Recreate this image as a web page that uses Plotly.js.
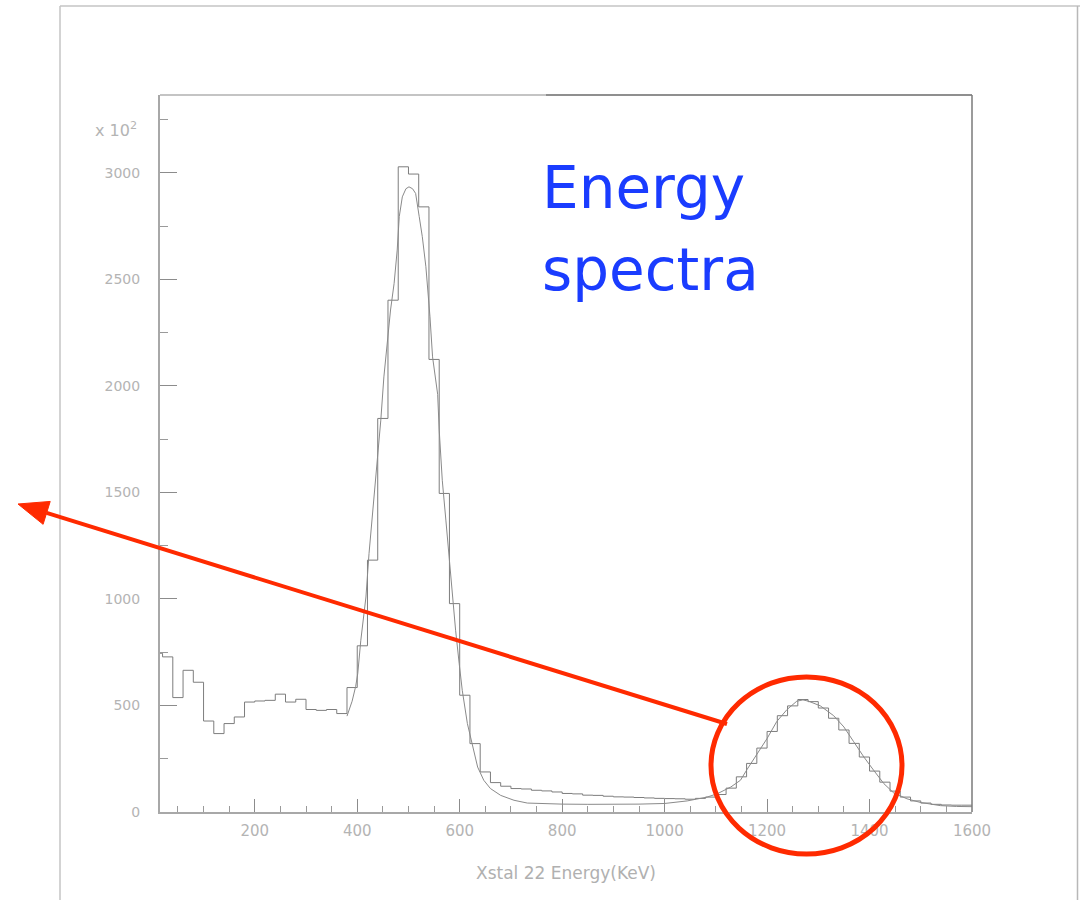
<!DOCTYPE html>
<html>
<head>
<meta charset="utf-8">
<script src="https://cdn.plot.ly/plotly-3.0.1.min.js"></script>
<style>
  html, body { margin: 0; padding: 0; background: #ffffff; }
  #chart { width: 1080px; height: 900px; }
</style>
</head>
<body>
<div id="chart"></div>
<script>
// Crystal 22 energy spectrum: 20 keV binned counts (units of 10^2) and the smooth overlay curve.
const binEdges = [0, 20, 40, 60, 80, 100, 120, 140, 160, 180, 200, 220, 240, 260, 280, 300,
  320, 340, 360, 380, 400, 420, 440, 460, 480, 500, 520, 540, 560, 580, 600, 620,
  640, 660, 680, 700, 720, 740, 760, 780, 800, 820, 840, 860, 880, 900, 920, 940,
  960, 980, 1000, 1020, 1040, 1060, 1080, 1100, 1120, 1140, 1160, 1180, 1200, 1220, 1240, 1260,
  1280, 1300, 1320, 1340, 1360, 1380, 1400, 1420, 1440, 1460, 1480, 1500, 1520, 1540, 1560, 1580, 1600];

const binCounts = [745, 728, 537, 665, 609, 427, 368, 415, 446, 516, 521, 524, 553, 516, 529, 481,
  477, 481, 462, 584, 780, 1182, 1847, 2402, 3028, 2994, 2840, 2124, 1495, 978, 548, 321,
  188, 138, 121, 110, 108, 102, 99, 94, 87, 85, 79, 78, 74, 71, 70, 68,
  66, 64, 63, 62, 60, 64, 70, 82, 112, 165, 228, 300, 378, 452, 498, 528,
  518, 488, 440, 385, 322, 258, 192, 140, 98, 70, 52, 42, 36, 33, 32, 32];

const curveEnergy = [380, 390, 397, 401, 407, 412, 417, 423, 430, 436, 446, 452, 459, 465, 472, 478,
  482, 488, 495, 501, 508, 514, 521, 527, 534, 538, 542, 547, 553, 557, 560, 566,
  573, 579, 586, 592, 599, 605, 615, 625, 635, 647, 660, 680, 706, 732, 758, 800,
  850, 900, 950, 1000, 1044, 1083, 1103, 1129, 1148, 1161, 1180, 1200, 1219, 1239, 1258, 1270,
  1281, 1304, 1330, 1350, 1369, 1389, 1408, 1428, 1447, 1473, 1499, 1538, 1570, 1600];

const curveCounts = [450, 520, 590, 650, 806, 900, 1009, 1213, 1401, 1589, 1839, 2042, 2215, 2356, 2481, 2637,
  2794, 2887, 2925, 2934, 2925, 2903, 2794, 2700, 2559, 2449, 2324, 2136, 2040, 1960, 1792, 1557,
  1370, 1197, 1009, 853, 697, 571, 415, 305, 211, 149, 110, 78, 55, 42, 39, 37,
  36, 36, 37, 40, 52, 70, 86, 117, 149, 200, 270, 345, 425, 481, 520, 526,
  520, 498, 452, 399, 330, 258, 196, 133, 90, 62, 45, 30, 26, 25];

const xTicks = [200, 400, 600, 800, 1000, 1200, 1400, 1600];
const yTicks = [0, 500, 1000, 1500, 2000, 2500, 3000];

const W = 1080, H = 900;
const M = { l: 160, r: 108, t: 95, b: 88 };
const plotW = W - M.l - M.r, plotH = H - M.t - M.b;
const px = v => (v - M.l) / plotW;          // page pixel -> paper x
const py = v => (H - M.b - v) / plotH;      // page pixel -> paper y

const stepY = binCounts.concat([binCounts[binCounts.length - 1]]);

const traces = [
  {
    type: 'scatter', mode: 'lines', x: binEdges, y: stepY,
    line: { shape: 'hv', color: '#7d7d7d', width: 1 },
    hoverinfo: 'skip', showlegend: false
  },
  {
    type: 'scatter', mode: 'lines', x: curveEnergy, y: curveCounts,
    line: { color: '#8a8a8a', width: 1 },
    hoverinfo: 'skip', showlegend: false
  }
];

const red = '#ff2a00';
const tip = [18, 504], tail = [727, 724];
const dx = tip[0] - tail[0], dy = tip[1] - tail[1];
const len = Math.hypot(dx, dy);
const ux = dx / len, uy = dy / len;
const headLen = 30, headHalf = 12;
const base = [tip[0] - headLen * ux, tip[1] - headLen * uy];
const c1 = [base[0] - uy * headHalf, base[1] + ux * headHalf];
const c2 = [base[0] + uy * headHalf, base[1] - ux * headHalf];

const shapes = [
  // page frame
  { type: 'line', xref: 'paper', yref: 'paper', x0: px(60), x1: px(1080), y0: py(6), y1: py(6), line: { color: '#c4c4c4', width: 1.5 } },
  { type: 'line', xref: 'paper', yref: 'paper', x0: px(60), x1: px(60), y0: py(6), y1: py(900), line: { color: '#c4c4c4', width: 1.5 } },
  { type: 'line', xref: 'paper', yref: 'paper', x0: px(1077.5), x1: px(1077.5), y0: py(6), y1: py(900), line: { color: '#b8b8b8', width: 1.5 } },
  // plot frame, top and right
  { type: 'line', xref: 'paper', yref: 'paper', x0: 0, x1: px(546), y0: 1, y1: 1, line: { color: '#b0b0b0', width: 1.5 } },
  { type: 'line', xref: 'paper', yref: 'paper', x0: px(546), x1: 1, y0: 1, y1: 1, line: { color: '#6a6a6a', width: 1.5 } },
  { type: 'line', xref: 'paper', yref: 'paper', x0: 1, x1: 1, y0: 0, y1: 1, line: { color: '#7a7a7a', width: 1.5 } },
  // red marker ring and arrow
  { type: 'circle', xref: 'paper', yref: 'paper', x0: px(711), x1: px(902), y0: py(677), y1: py(854), line: { color: red, width: 5 } },
  { type: 'line', xref: 'paper', yref: 'paper', x0: px(tail[0]), y0: py(tail[1]), x1: px(base[0]), y1: py(base[1]), line: { color: red, width: 4 } },
  { type: 'path', xref: 'paper', yref: 'paper',
    path: `M ${px(tip[0])} ${py(tip[1])} L ${px(c1[0])} ${py(c1[1])} L ${px(c2[0])} ${py(c2[1])} Z`,
    fillcolor: red, line: { color: red, width: 1 } }
];

const labelFont = { family: 'DejaVu Sans, sans-serif', size: 14, color: '#b4b4b4' };
const blueFont = { family: 'DejaVu Sans, sans-serif', size: 58, color: '#1a3cff' };

const annotations = [
  { xref: 'paper', yref: 'paper', x: px(540), y: py(188), xanchor: 'left', yanchor: 'middle',
    text: 'Energy', showarrow: false, font: blueFont },
  { xref: 'paper', yref: 'paper', x: px(540), y: py(270), xanchor: 'left', yanchor: 'middle',
    text: 'spectra', showarrow: false, font: blueFont },
  { xref: 'paper', yref: 'paper', x: px(93), y: py(130), xanchor: 'left', yanchor: 'middle',
    text: 'x 10<sup>2</sup>', showarrow: false, font: { family: 'DejaVu Sans, sans-serif', size: 16, color: '#b4b4b4' } }
];

const layout = {
  width: W, height: H,
  margin: M,
  paper_bgcolor: '#ffffff', plot_bgcolor: '#ffffff',
  showlegend: false,
  xaxis: {
    range: [15, 1600], showgrid: false, zeroline: false,
    showline: true, linecolor: '#a8a8a8', linewidth: 2,
    tickmode: 'array', tickvals: xTicks, ticktext: xTicks.map(String),
    ticks: 'inside', ticklen: 13, tickwidth: 1, tickcolor: '#8c8c8c',
    minor: { dtick: 50, tick0: 0, ticks: 'inside', ticklen: 6, tickcolor: '#9a9a9a', showgrid: false },
    tickfont: { family: 'DejaVu Sans, sans-serif', size: 15, color: '#b4b4b4' }, ticklabelstandoff: 4,
    title: { text: 'Xstal 22 Energy(KeV)', font: { family: 'DejaVu Sans, sans-serif', size: 17, color: '#b0b0b0' }, standoff: 28 },
    automargin: false, fixedrange: true
  },
  yaxis: {
    range: [0, 3365], showgrid: false, zeroline: false,
    showline: true, linecolor: '#a8a8a8', linewidth: 2,
    tickmode: 'array', tickvals: yTicks, ticktext: yTicks.map(String),
    ticks: 'inside', ticklen: 17, tickwidth: 1, tickcolor: '#8c8c8c',
    minor: { dtick: 250, tick0: 0, ticks: 'inside', ticklen: 8, tickcolor: '#9a9a9a', showgrid: false },
    tickfont: labelFont, ticklabelstandoff: 15,
    automargin: false, fixedrange: true
  },
  shapes: shapes,
  annotations: annotations
};

Plotly.newPlot('chart', traces, layout, { staticPlot: true, displayModeBar: false });
</script>
</body>
</html>
